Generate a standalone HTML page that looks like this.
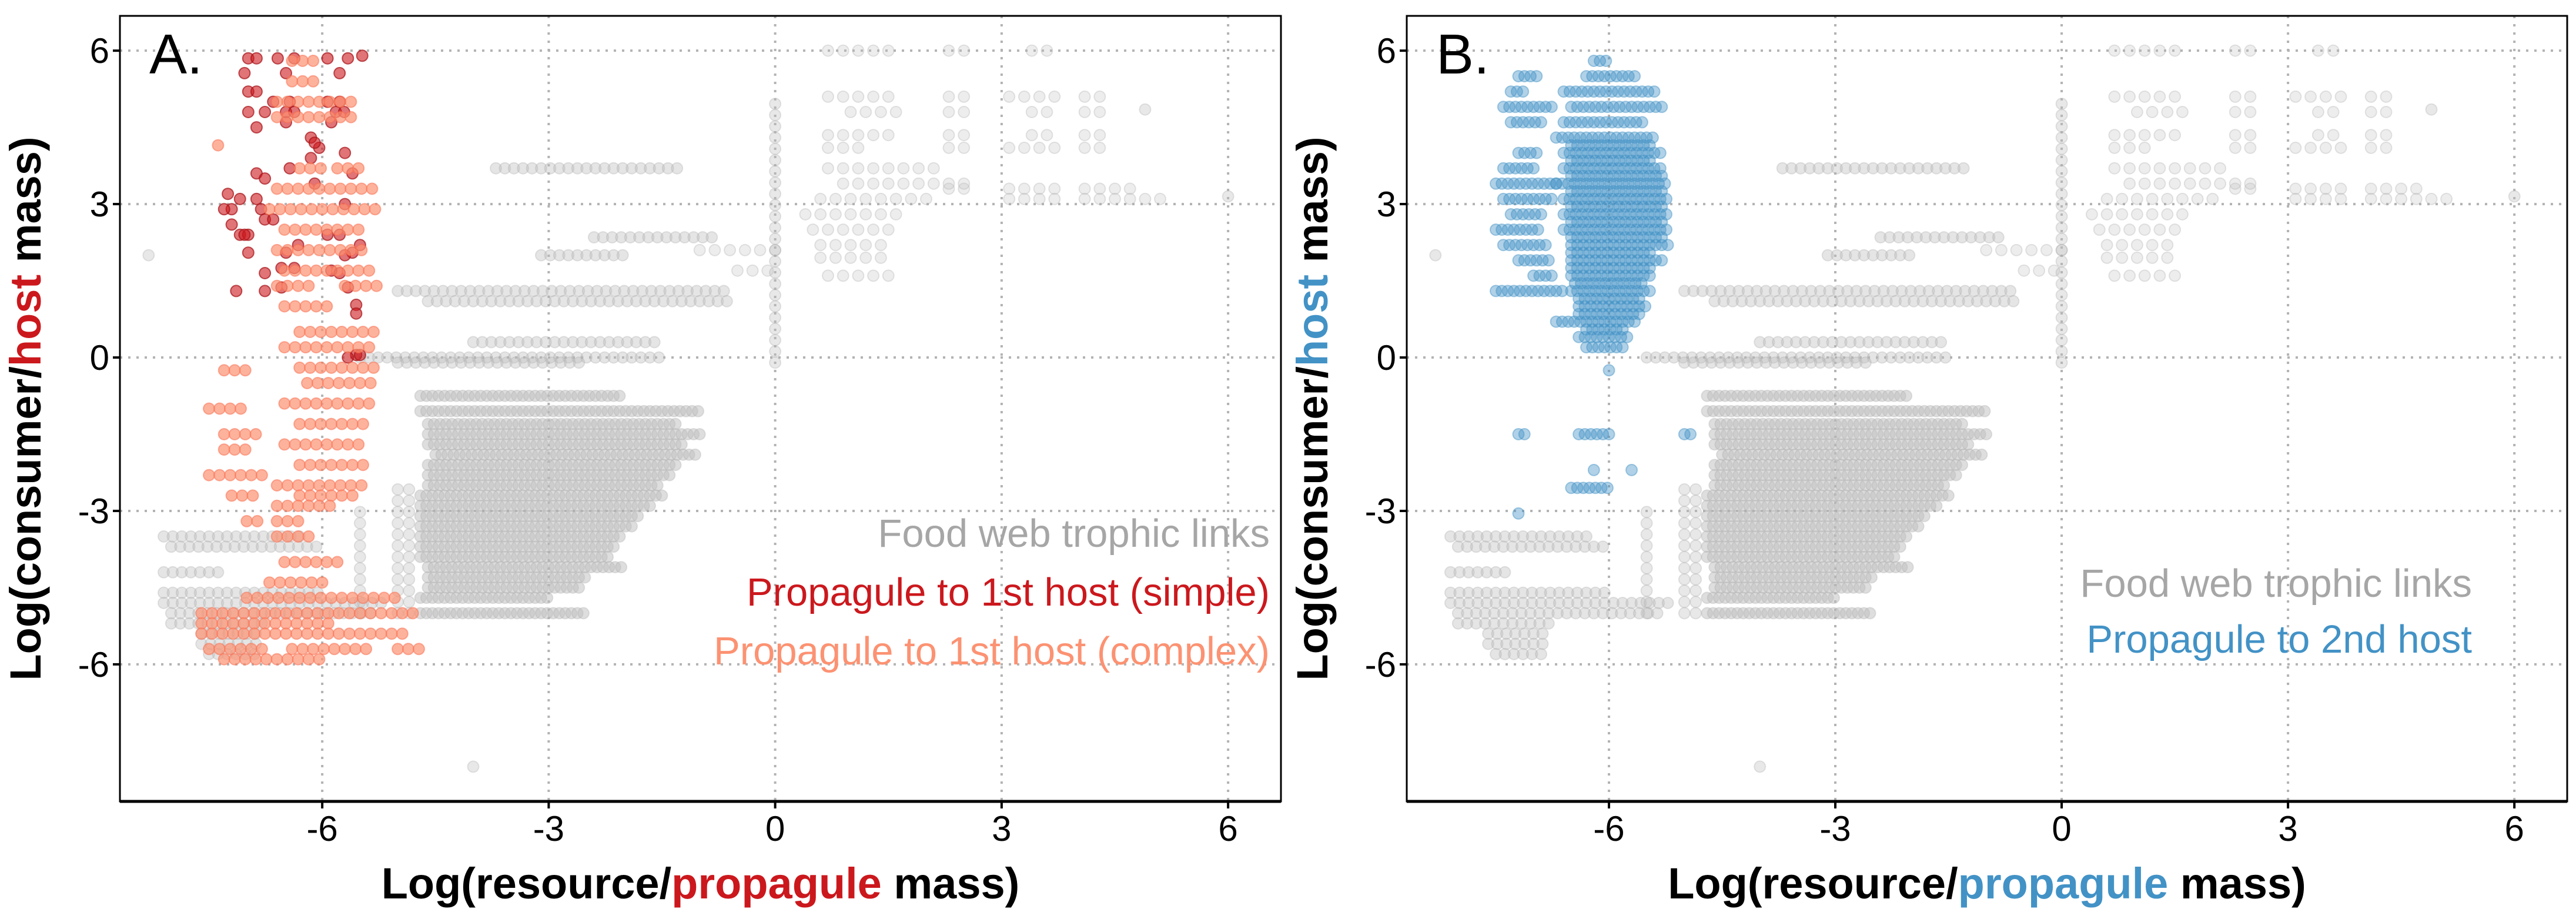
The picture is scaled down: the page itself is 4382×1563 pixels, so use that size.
<!DOCTYPE html>
<html><head><meta charset="utf-8">
<style>
html,body{margin:0;padding:0;background:#fff;}
svg{display:block;font-family:"Liberation Sans",Arial,sans-serif;}
</style></head>
<body>
<svg id="chart" width="4382" height="1563" viewBox="0 0 4382 1563" xmlns="http://www.w3.org/2000/svg">
<rect x="0" y="0" width="4382" height="1563" fill="#fff"/>
<g id="panelA"></g>
<g id="panelB"></g>
</svg>
<script>
// ---------- DATA ----------
const xTicks = [-6, -3, 0, 3, 6];
const yTicks = [6, 3, 0, -3, -6];
const xTickLabels = ["-6", "-3", "0", "3", "6"];
const yTickLabels = ["6", "3", "0", "-3", "-6"];

// Food web trophic links: horizontal runs [y, xStart, xEnd]
const grayRunY  = [-0.75,-1.05,-1.3,-1.5,-1.7,-1.9,-2.1,-2.3,-2.5,-2.7,-2.9,-3.1,-3.3,-3.5,-3.7,-3.9,-4.1,-4.3,-4.5,-4.7,-5.0,
  -3.5,-3.7,-4.2,-4.6,-4.8,-5.0,-5.2,-5.4,-5.6,-5.8,
  1.3,1.1,0.3,0.0,-0.1,3.7,2.35,2.0,
  6.0,6.0,6.0,5.1,5.1,5.1,5.1,4.8,4.8,4.8,4.8,4.35,4.35,4.35,4.35,4.1,4.1,4.1,4.1,3.3,3.3,3.3,3.1,3.1,1.6,
  3.7,3.4,3.1,2.8,2.5,2.2,1.95,2.1,1.7];
const grayRunX0 = [-4.7,-4.7,-4.6,-4.6,-4.6,-4.5,-4.6,-4.6,-4.6,-4.7,-4.7,-4.7,-4.7,-4.7,-4.7,-4.7,-4.6,-4.6,-4.6,-4.7,-4.7,
  -8.1,-8.0,-8.1,-8.1,-8.1,-8.0,-8.0,-7.6,-7.6,-7.5,
  -5.0,-4.6,-4.0,-5.5,-5.0,-3.7,-2.4,-3.1,
  0.7,2.3,3.4,0.7,2.3,3.1,4.1,1.0,2.3,3.4,4.1,0.7,2.3,3.4,4.1,0.7,2.3,3.1,4.1,2.3,3.1,4.1,3.1,4.1,0.7,
  0.7,0.9,0.6,0.4,0.5,0.6,0.6,-1.0,-0.5];
const grayRunX1 = [-2.0,-1.0,-1.3,-1.0,-1.2,-1.0,-1.3,-1.4,-1.5,-1.5,-1.6,-1.8,-1.9,-2.0,-2.1,-2.2,-2.0,-2.5,-2.6,-3.0,-2.5,
  -6.3,-6.0,-7.3,-6.0,-5.2,-5.3,-6.8,-6.8,-6.8,-6.8,
  -0.6,-0.6,-1.5,-1.5,-2.5,-1.2,-0.8,-2.0,
  1.6,2.5,3.6,1.6,2.5,3.7,4.3,1.6,2.5,3.7,4.3,1.6,2.5,3.7,4.3,1.2,2.5,3.7,4.3,2.6,3.7,4.8,3.7,5.2,1.6,
  2.2,2.5,2.0,1.7,1.5,1.4,1.5,0.0,0.0];
// vertical runs [x, yStart, yEnd]
const grayColX  = [-5.0,-5.5,0.0,-4.85];
const grayColY0 = [-5.0,-5.0,-0.1,-5.0];
const grayColY1 = [-2.5,-3.0,5.0,-2.5];
const grayLoneX = [-4.0, -8.3, 4.9, 6.0];
const grayLoneY = [-8.0, 2.0, 4.85, 3.15];

// Propagule to 1st host (simple): points
const redX = [-6.98,-6.87,-6.59,-6.37,-5.93,-5.66,-5.47,-7.03,-6.48,-5.77,-6.98,-6.87,-6.65,-6.43,-5.93,-5.77,-6.98,-6.76,-6.48,-6.37,-5.82,-5.71,
  -6.87,-6.48,-6.15,-5.88,-6.87,-6.76,-6.43,-6.15,-6.04,-5.6,-7.25,-7.09,-7.2,-6.87,-6.81,-7.2,-7.09,-6.98,-6.76,-6.65,
  -7.03,-6.98,-6.48,-6.32,-5.93,-5.77,-5.6,-5.5,-6.76,-6.54,-6.37,-5.88,-5.77,-7.14,-6.76,-6.54,-5.66,-5.55,-5.55,-5.55,-5.66,-5.5,
  -5.7,-5.7,-5.7,-6.1,-6.1,-7.3];
const redY = [5.85,5.85,5.85,5.85,5.85,5.85,5.9,5.56,5.56,5.56,5.2,5.2,5.0,5.0,5.0,5.0,4.8,4.8,4.8,4.8,4.8,4.8,
  4.5,4.6,4.3,4.6,3.6,3.5,3.7,3.9,4.1,3.6,3.2,3.1,2.9,3.1,2.9,2.6,2.4,2.4,2.7,2.7,
  2.4,2.05,2.05,2.2,2.4,2.4,2.05,2.2,1.65,1.75,1.75,1.7,1.65,1.3,1.3,1.37,1.37,1.03,0.86,0.05,0.0,0.05,
  4.0,3.0,2.0,4.2,3.4,2.9];

// Propagule to 1st host (complex): runs
const orangeRunY  = [5.8,5.4,5.0,4.7,4.15,3.7,3.7,3.3,2.9,2.5,2.1,1.7,1.4,1.4,1.0,0.5,0.2,-0.2,-0.25,-0.5,-0.9,-1.0,-1.3,-1.5,-1.7,-1.8,-2.1,-2.3,-2.5,-2.7,-2.7,-2.9,-3.2,-3.2,-3.5,-4.0,-4.4,-4.7,-5.0,-5.2,-5.4,-5.7,-5.7,-5.7,-5.9];
const orangeRunX0 = [-6.4,-6.4,-6.6,-6.6,-7.38,-6.3,-5.8,-6.6,-6.7,-6.5,-6.6,-6.5,-6.6,-5.7,-6.5,-6.3,-6.5,-6.3,-7.3,-6.2,-6.5,-7.5,-6.3,-7.3,-6.5,-7.3,-6.3,-7.5,-6.6,-7.2,-6.3,-6.6,-7.0,-6.6,-6.6,-6.5,-6.7,-7.0,-7.6,-7.6,-7.6,-7.5,-6.4,-5.0,-7.3];
const orangeRunX1 = [-6.1,-6.0,-5.5,-5.6,-7.38,-5.9,-5.5,-5.3,-5.3,-5.4,-5.4,-5.3,-6.1,-5.2,-5.9,-5.3,-5.3,-5.3,-7.0,-5.3,-5.3,-7.0,-5.4,-6.8,-5.5,-6.9,-5.4,-6.8,-5.4,-6.9,-5.5,-5.9,-6.8,-6.3,-6.1,-5.8,-5.9,-5.0,-4.7,-5.8,-4.9,-6.7,-5.4,-4.7,-6.0];

// Propagule to 2nd host: runs
const blueRunY  = [5.8,5.5,5.5,5.2,5.2,4.9,4.9,4.6,4.6,4.3,4.15,4.0,4.0,3.85,3.7,3.7,3.55,3.4,3.4,3.25,3.1,3.1,2.95,2.8,2.8,2.65,2.5,2.5,2.35,2.2,2.2,2.05,1.9,1.9,1.75,1.6,1.6,1.45,1.3,1.3,1.15,1.0,0.85,0.7,0.55,0.4,0.2,-0.25,-1.5,-1.5,-1.5,-2.2,-2.2,-2.55,-3.05];
const blueRunX0 = [-6.2,-7.2,-6.3,-7.3,-6.6,-7.4,-6.5,-7.3,-6.6,-6.7,-6.5,-7.2,-6.6,-6.5,-7.4,-6.6,-6.5,-7.5,-6.7,-6.5,-7.4,-6.6,-6.5,-7.3,-6.6,-6.5,-7.5,-6.6,-6.5,-7.4,-6.5,-6.5,-7.2,-6.5,-6.5,-7.0,-6.5,-6.45,-7.5,-6.5,-6.4,-6.4,-6.4,-6.7,-6.3,-6.4,-6.3,-6.0,-7.2,-6.4,-5.0,-6.2,-5.7,-6.5,-7.2];
const blueRunX1 = [-6.0,-6.9,-5.6,-7.1,-5.4,-6.7,-5.3,-6.9,-5.5,-5.4,-5.4,-6.9,-5.3,-5.4,-7.0,-5.3,-5.3,-6.7,-5.2,-5.3,-6.7,-5.2,-5.3,-6.9,-5.2,-5.3,-6.9,-5.2,-5.3,-6.8,-5.2,-5.4,-6.8,-5.3,-5.4,-6.7,-5.4,-5.5,-6.6,-5.4,-5.6,-5.5,-5.6,-5.6,-5.8,-5.7,-5.8,-6.0,-7.1,-6.0,-4.9,-6.2,-5.7,-6.0,-7.2];

// ---------- RENDERING ----------
const NS = "http://www.w3.org/2000/svg";
const XMIN = -8.68, XMAX = 6.7, YMIN = -8.68, YMAX = 6.68;
const R = 9.5;
function mk(tag, attrs, parent){ const e=document.createElementNS(NS,tag); for(const k in attrs) e.setAttribute(k,attrs[k]); parent.appendChild(e); return e; }

function drawPanel(g, left, right, cfg){
  const top = 27, bottom = 1363;
  const xs = v => left + (v - XMIN) / (XMAX - XMIN) * (right - left);
  const ys = v => top + (YMAX - v) / (YMAX - YMIN) * (bottom - top);

  const grid = mk('g',{},g);
  
  
  xTicks.forEach(t=>{ const l=mk('line',{x1:xs(t),x2:xs(t),y1:top,y2:bottom,stroke:'#b3b3b3','stroke-width':4,'stroke-dasharray':'4 10'},grid);
      });
  yTicks.forEach(t=>{ const l=mk('line',{x1:left,x2:right,y1:ys(t),y2:ys(t),stroke:'#b3b3b3','stroke-width':4,'stroke-dasharray':'4 10'},grid);
      });

  function dot(parent, x, y, fill, fo, stroke, so){
    const c = mk('circle',{cx:xs(x).toFixed(1),cy:ys(y).toFixed(1),r:R,fill:fill,'fill-opacity':fo,stroke:stroke,'stroke-opacity':so,'stroke-width':2},parent);
    
    
  }
  function runs(parent, Y, X0, X1, stFn, fill, foFn, stroke, so){
    for(let i=0;i<Y.length;i++){
      const st = stFn(i), fo = foFn(i);
      for(let x=X0[i]; x<=X1[i]+1e-6; x+=st) dot(parent,x,Y[i],fill,fo,stroke,so);
    }
  }
  const gg = mk('g',{},g);
  
  
  runs(gg, grayRunY, grayRunX0, grayRunX1, i => (i < 21 ? 0.08 : (i < 39 ? 0.12 : 0.2)), '#bdbdbd', i => (i < 21 ? 0.5 : (i < 39 ? 0.4 : 0.28)), '#a8a8a8', 0.3);
  for(let i=0;i<grayColX.length;i++) for(let y=grayColY0[i]; y<=grayColY1[i]+1e-6; y+=0.22) dot(gg,grayColX[i],y,'#bdbdbd',0.35,'#a8a8a8',0.3);
  for(let i=0;i<grayLoneX.length;i++) dot(gg,grayLoneX[i],grayLoneY[i],'#bdbdbd',0.35,'#a8a8a8',0.3);

  cfg.series(gg, dot, runs);

  const frame = mk('rect',{x:left,y:top,width:right-left,height:bottom-top,fill:'none',stroke:'#000','stroke-width':3},g);
   
  const ax = mk('line',{x1:left,x2:right,y1:bottom,y2:bottom,stroke:'#000','stroke-width':5},g);
   

  xTicks.forEach((t,i)=>{
    const tk=mk('line',{x1:xs(t),x2:xs(t),y1:bottom,y2:bottom+12,stroke:'#000','stroke-width':4},g);
     
    const tx=mk('text',{x:xs(t),y:1430,'text-anchor':'middle','font-size':60,fill:'#000'},g);
    tx.textContent=xTickLabels[i];
     
  });
  yTicks.forEach((t,i)=>{
    const tk=mk('line',{x1:left-12,x2:left,y1:ys(t),y2:ys(t),stroke:'#000','stroke-width':4},g);
     
    const tx=mk('text',{x:left-18,y:ys(t)+21,'text-anchor':'end','font-size':60,fill:'#000'},g);
    tx.textContent=yTickLabels[i];
     
  });

  const xt = mk('text',{x:(left+right)/2,y:1528,'text-anchor':'middle','font-size':74,'font-weight':'bold',fill:'#000'},g);
   
  xt.innerHTML = 'Log(resource/<tspan fill="'+cfg.color+'">propagule</tspan> mass)';
  const yt = mk('text',{x:0,y:0,'text-anchor':'middle','font-size':74,'font-weight':'bold',fill:'#000',transform:'translate('+(left-135)+',695) rotate(-90)'},g);
   
  yt.innerHTML = 'Log(consumer/<tspan fill="'+cfg.color+'">host</tspan> mass)';

  const pl = mk('text',{x:left+50,y:125,'font-size':96,fill:'#000'},g);
  pl.textContent = cfg.label;
   

  cfg.legend.forEach((L,i)=>{
    const t = mk('text',{x:cfg.legendX,y:cfg.legendY+i*cfg.legendGap,'text-anchor':'end','font-size':67,fill:L[1]},g);
    t.textContent = L[0];
     
  });
}

drawPanel(document.getElementById('panelA'), 204, 2179, {
  color:'#cb181d', label:'A.', legendX:2160, legendY:930, legendGap:100,
  legend:[['Food web trophic links','#a6a6a6'],['Propagule to 1st host (simple)','#cb181d'],['Propagule to 1st host (complex)','#fc9272']],
  series:(g,dot,runs)=>{
    const s1 = document.createElementNS(NS,'g'); g.appendChild(s1);
    
    
    for(let i=0;i<redX.length;i++) dot(s1,redX[i],redY[i],'#cb181d',0.6,'#a50f15',0.7);
    const s2 = document.createElementNS(NS,'g'); g.appendChild(s2);
    
    
    runs(s2, orangeRunY, orangeRunX0, orangeRunX1, i => 0.14, '#fc9272', i => 0.7, '#fb6a4a', 0.5);
  }
});
drawPanel(document.getElementById('panelB'), 2393, 4367, {
  color:'#4292c6', label:'B.', legendX:4205, legendY:1015, legendGap:95,
  legend:[['Food web trophic links','#a6a6a6'],['Propagule to 2nd host','#4292c6']],
  series:(g,dot,runs)=>{
    const s = document.createElementNS(NS,'g'); g.appendChild(s);
    
    
    runs(s, blueRunY, blueRunX0, blueRunX1, i => 0.08, '#4292c6', i => 0.42, '#4292c6', 0.45);
  }
});
</script>
</body></html>
